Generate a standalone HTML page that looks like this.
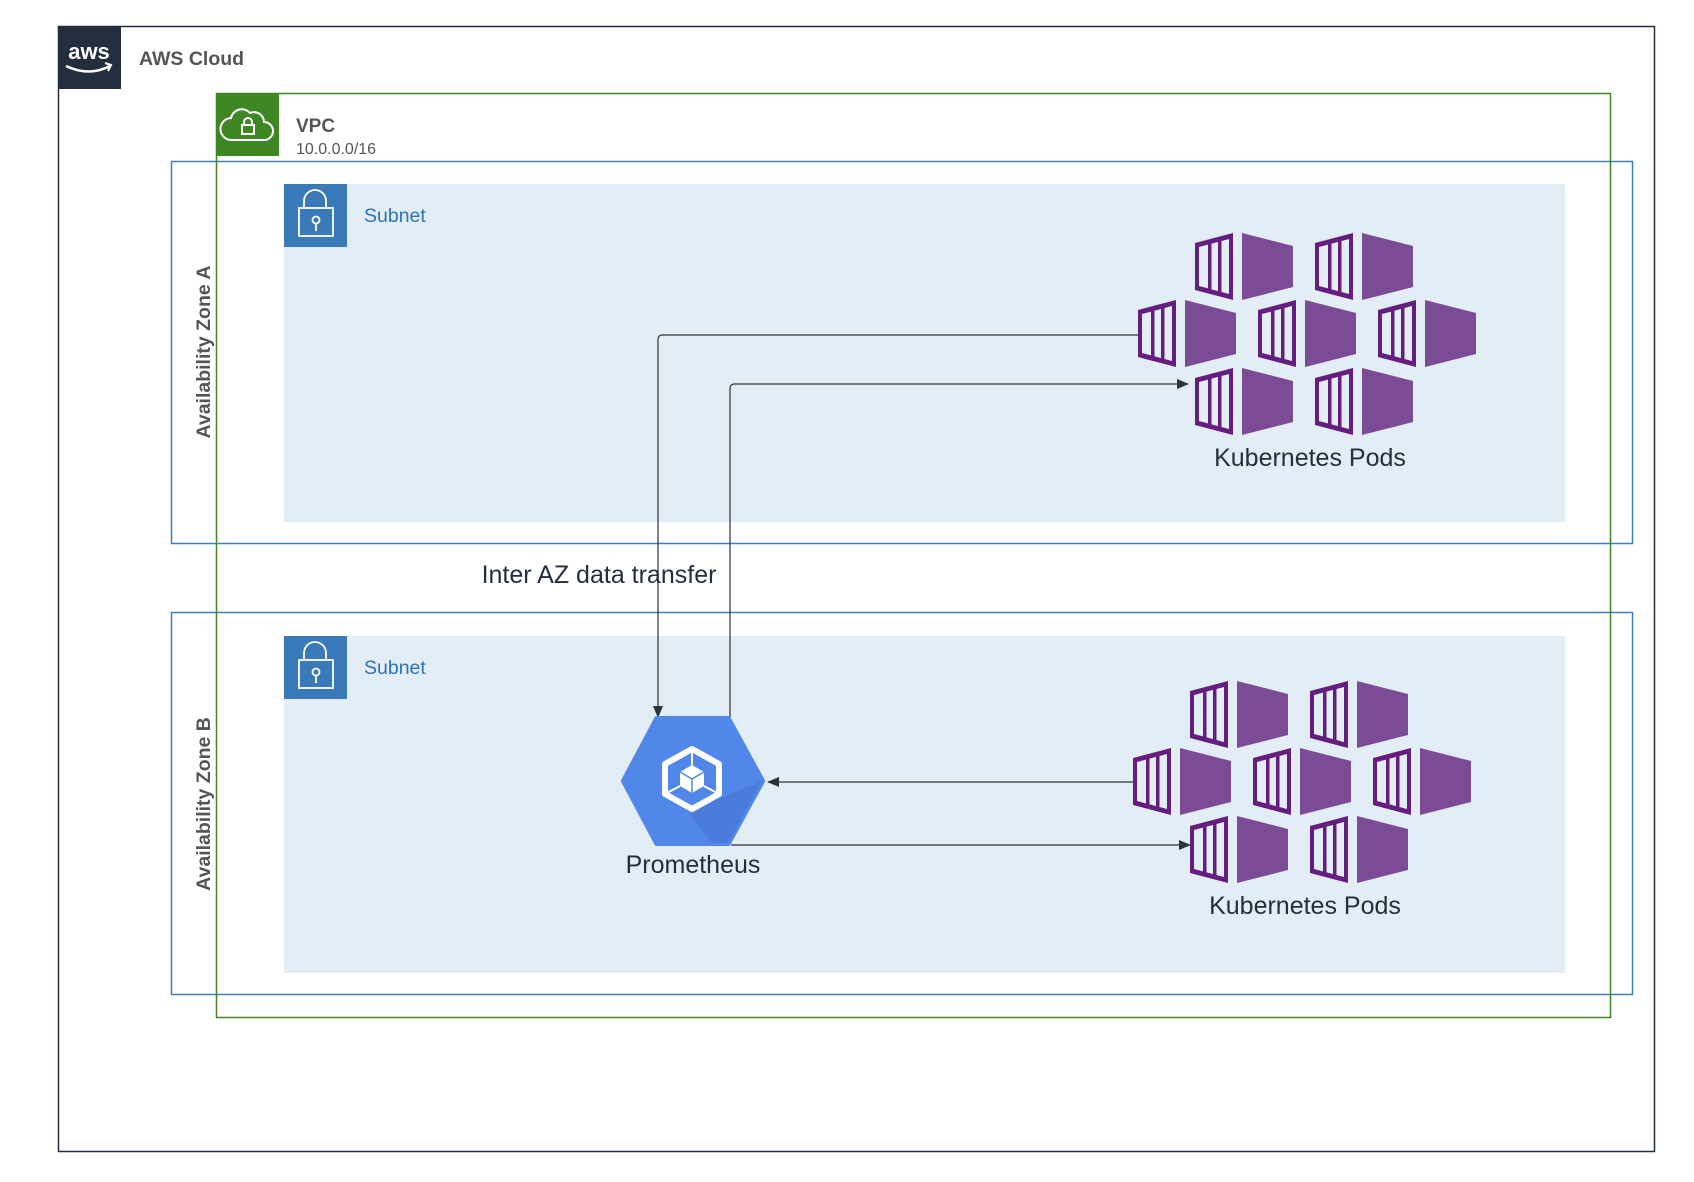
<!DOCTYPE html>
<html><head><meta charset="utf-8"><style>
html,body{margin:0;padding:0;background:#fff;}
svg{display:block;}
text{font-family:"Liberation Sans",Arial,sans-serif;}
</style></head><body>
<svg width="1694" height="1182" viewBox="0 0 1694 1182" xmlns="http://www.w3.org/2000/svg">
<defs>
<g id="ct">
  <polygon points="0,10 38,0 38,67 0,57" fill="#661d80"/>
  <polygon points="4,14 34,6 34,61 4,53" fill="#e3edf5"/>
  <rect x="13" y="10" width="3.5" height="48" fill="#661d80"/>
  <rect x="23" y="8" width="3.5" height="52" fill="#661d80"/>
  <polygon points="47,0 98,13 98,54 47,67" fill="#7b4b96"/>
</g>
<g id="pods">
  <use href="#ct" x="57" y="0"/>
  <use href="#ct" x="177" y="0"/>
  <use href="#ct" x="0" y="67"/>
  <use href="#ct" x="120" y="67"/>
  <use href="#ct" x="240" y="67"/>
  <use href="#ct" x="57" y="135"/>
  <use href="#ct" x="177" y="135"/>
</g>
<marker id="ar" markerWidth="12" markerHeight="10" refX="11" refY="5" orient="auto" markerUnits="userSpaceOnUse">
  <polygon points="0,0 12,5 0,10" fill="#2d333b"/>
</marker>
</defs>

<!-- AWS Cloud -->
<rect x="58.5" y="26.5" width="1596" height="1125" fill="#fff" stroke="#232f3e" stroke-width="1.5"/>
<rect x="58" y="26" width="63" height="63" fill="#232f3e"/>
<text x="89" y="59" font-size="22" fill="#fff" text-anchor="middle" font-weight="bold">aws</text>
<path d="M66,66 Q89,77 110,66" stroke="#fff" stroke-width="2.5" fill="none"/>
<path d="M105,63 L111,65 L108,71" stroke="#fff" stroke-width="2" fill="none"/>
<text x="139" y="65" font-size="19.5" font-weight="bold" fill="#555">AWS Cloud</text>

<!-- AZ boxes -->
<rect x="171.5" y="161.5" width="1461" height="382" fill="none" stroke="#3f7dbf" stroke-width="1.5"/>
<rect x="171.5" y="612.5" width="1461" height="382" fill="none" stroke="#3f7dbf" stroke-width="1.5"/>

<!-- Subnets -->
<rect x="284" y="184" width="1281" height="338" fill="#e3edf5"/>
<rect x="284" y="636" width="1281" height="337" fill="#e3edf5"/>

<!-- VPC -->
<rect x="216.5" y="93.5" width="1394" height="924" fill="none" stroke="#3f8624" stroke-width="1.5"/>
<rect x="216" y="93" width="63" height="63" fill="#3f8624"/>
<path d="M232,140 h32 a9,9 0 0 0 0,-18 a10,10 0 0 0 -14,-9 a11,11 0 0 0 -19,5 a11,11 0 0 0 1,22 z" fill="none" stroke="#fff" stroke-width="2"/>
<rect x="242" y="125" width="12" height="9" fill="none" stroke="#fff" stroke-width="2"/>
<path d="M244,125 v-3 a4,4 0 0 1 8,0 v3" fill="none" stroke="#fff" stroke-width="2"/>
<text x="296" y="132" font-size="19" font-weight="bold" fill="#555">VPC</text>
<text x="296" y="154" font-size="16" fill="#555">10.0.0.0/16</text>

<!-- subnet icons -->
<g>
<rect x="284" y="184" width="63" height="63" fill="#3a7ab8"/>
<rect x="299" y="208" width="34" height="28" fill="none" stroke="#fff" stroke-width="1.8"/>
<path d="M304,208 v-7 a11,11 0 0 1 22,0 v7" fill="none" stroke="#fff" stroke-width="1.8"/>
<circle cx="316" cy="220" r="3.5" fill="none" stroke="#fff" stroke-width="1.8"/><line x1="316" y1="224" x2="316" y2="231" stroke="#fff" stroke-width="1.8"/>
<text x="364" y="222" font-size="19.5" fill="#2a73b8">Subnet</text>
</g>
<g transform="translate(0,452)">
<rect x="284" y="184" width="63" height="63" fill="#3a7ab8"/>
<rect x="299" y="208" width="34" height="28" fill="none" stroke="#fff" stroke-width="1.8"/>
<path d="M304,208 v-7 a11,11 0 0 1 22,0 v7" fill="none" stroke="#fff" stroke-width="1.8"/>
<circle cx="316" cy="220" r="3.5" fill="none" stroke="#fff" stroke-width="1.8"/><line x1="316" y1="224" x2="316" y2="231" stroke="#fff" stroke-width="1.8"/>
<text x="364" y="222" font-size="19.5" fill="#2a73b8">Subnet</text>
</g>

<!-- AZ labels -->
<text transform="translate(210,352) rotate(-90)" font-size="19.5" font-weight="bold" fill="#555" text-anchor="middle">Availability Zone A</text>
<text transform="translate(210,804) rotate(-90)" font-size="19.5" font-weight="bold" fill="#555" text-anchor="middle">Availability Zone B</text>

<!-- Pods -->
<use href="#pods" x="1138" y="233"/>
<use href="#pods" x="1133" y="681"/>
<text x="1310" y="466" font-size="25" fill="#232f3e" text-anchor="middle">Kubernetes Pods</text>
<text x="1305" y="914" font-size="25" fill="#232f3e" text-anchor="middle">Kubernetes Pods</text>

<!-- connectors -->
<g stroke="#2d333b" stroke-width="1.2" fill="none">
<path d="M1138,335 H662 a4,4 0 0 0 -4,4 V717" marker-end="url(#ar)"/>
<path d="M730,717 V388 a4,4 0 0 1 4,-4 H1188" marker-end="url(#ar)"/>
<path d="M1133,782 H768" marker-end="url(#ar)"/>
<path d="M731,845 H1190" marker-end="url(#ar)"/>
</g>

<text x="599" y="583" font-size="25" fill="#232f3e" text-anchor="middle">Inter AZ data transfer</text>

<!-- Prometheus -->
<polygon points="624,781 657,719 728,719 762,781 728,843 657,843" fill="#5187e9" stroke="#5187e9" stroke-width="6" stroke-linejoin="round"/>
<polygon points="716,800 762,781 728,843 712,843 690,815" fill="#4a79d8" opacity="0.8"/>
<polygon points="692,749 719,764 719,794 692,809 665,794 665,764" fill="none" stroke="#fff" stroke-width="6" stroke-linejoin="round"/>
<polygon points="692,765 704,772 704,786 692,793 680,786 680,772" fill="#fff"/>
<path d="M680,772 L692,779 L704,772 M692,779 V793" stroke="#5187e9" stroke-width="1.5" fill="none"/>
<path d="M692,752 V765 M665,794 L680,786 M719,794 L704,786" stroke="#fff" stroke-width="2"/>
<text x="693" y="873" font-size="25" fill="#232f3e" text-anchor="middle">Prometheus</text>
</svg>
</body></html>
